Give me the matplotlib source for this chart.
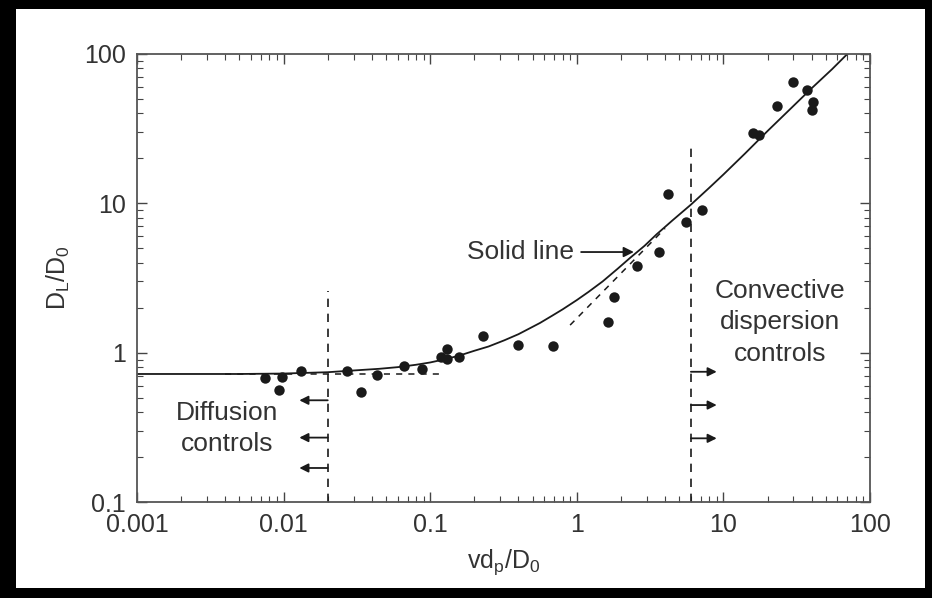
import numpy as np
import matplotlib
matplotlib.use("Agg")
import matplotlib.pyplot as plt
from matplotlib.patches import Rectangle
from matplotlib.ticker import FixedLocator, LogLocator, NullFormatter

plt.rcParams['font.family'] = ['Liberation Sans', 'DejaVu Sans']
plt.rcParams['mathtext.default'] = 'regular'

# measured points (vd_p/D_0, D_L/D_0)
pe = [0.0075, 0.0093, 0.0098, 0.0132, 0.027, 0.0337, 0.0434, 0.066, 0.088,
      0.119, 0.130, 0.130, 0.157, 0.229, 0.397, 0.689, 1.63, 1.79, 2.58,
      3.64, 4.19, 5.56, 7.14, 15.9, 17.5, 23.2, 29.9, 37.2, 40.2, 40.8]
dl = [0.676, 0.562, 0.687, 0.753, 0.753, 0.545, 0.708, 0.813, 0.777,
      0.935, 1.06, 0.906, 0.935, 1.29, 1.12, 1.11, 1.60, 2.36, 3.80,
      4.72, 11.5, 7.50, 9.02, 29.6, 28.7, 44.9, 64.9, 57.4, 42.2, 47.7]

# solid line
curve_x = [0.001, 0.005, 0.01, 0.02, 0.03, 0.045, 0.06, 0.08, 0.1, 0.13,
           0.16, 0.2, 0.25, 0.32, 0.4, 0.48, 0.56, 0.68, 0.8, 1.0, 1.2,
           1.5, 1.9, 2.3, 2.9, 3.5, 4.5, 6.0, 8.0, 10.0, 14.0, 20.0, 28.0,
           40.0, 55.0, 70.0]
curve_y = [0.72, 0.72, 0.725, 0.74, 0.76, 0.78, 0.80, 0.83, 0.86, 0.91,
           0.96, 1.03, 1.10, 1.21, 1.33, 1.46, 1.58, 1.77, 1.95, 2.25, 2.55,
           3.0, 3.65, 4.3, 5.2, 6.2, 7.7, 9.8, 12.7, 15.6, 21.5, 30.5, 42.0,
           59.0, 79.0, 100.0]

# dashed asymptotes
flat_x = [0.004, 0.12]
flat_y = [0.72, 0.72]
slope_x = [0.9, 4.0]
slope_y = [1.53, 6.8]

# regime boundaries
x_diff = 0.02
x_conv = 6.0
diff_arrow_y = [0.48, 0.27, 0.169]
conv_arrow_y = [0.745, 0.446, 0.267]

ink = '#1a1a1a'
txt = '#333333'

fig = plt.figure(figsize=(9.32, 5.98), dpi=100)
ax = fig.add_axes([0.147, 0.1605, 0.7865, 0.7492])

ax.plot(curve_x, curve_y, color=ink, lw=1.3)
ax.plot(flat_x, flat_y, color=ink, lw=1.1, ls=(0, (4, 4)))
ax.plot(slope_x, slope_y, color=ink, lw=1.1, ls=(0, (4, 4)))
ax.plot(pe, dl, 'o', color=ink, ms=7.5, mec='none')

ax.plot([x_diff, x_diff], [0.1, 2.6], color=ink, lw=1.2, ls=(0, (5, 4)))
ax.plot([x_conv, x_conv], [0.1, 24], color=ink, lw=1.2, ls=(0, (5, 4)))

for yy in diff_arrow_y:
    ax.annotate('', xy=(0.0128, yy), xytext=(x_diff, yy),
                arrowprops=dict(arrowstyle='-|>', color=ink, lw=1.3,
                                mutation_scale=13, shrinkA=0, shrinkB=0))
for yy in conv_arrow_y:
    ax.annotate('', xy=(9.0, yy), xytext=(x_conv, yy),
                arrowprops=dict(arrowstyle='-|>', color=ink, lw=1.3,
                                mutation_scale=13, shrinkA=0, shrinkB=0))

ax.annotate('', xy=(2.45, 4.72), xytext=(1.07, 4.72),
            arrowprops=dict(arrowstyle='-|>', color=ink, lw=1.3,
                            mutation_scale=15, shrinkA=0, shrinkB=0))
ax.text(0.178, 4.72, 'Solid line', fontsize=19, color=txt,
        ha='left', va='center')
ax.text(0.0041, 0.31, 'Diffusion\ncontrols', fontsize=19, color=txt,
        ha='center', va='center', linespacing=1.4)
ax.text(24.3, 1.6, 'Convective\ndispersion\ncontrols', fontsize=19,
        color=txt, ha='center', va='center', linespacing=1.4)

ax.set_xscale('log')
ax.set_yscale('log')
ax.set_xlim(0.001, 100)
ax.set_ylim(0.1, 100)

xt = [0.001, 0.01, 0.1, 1, 10, 100]
yt = [0.1, 1, 10, 100]
ax.xaxis.set_major_locator(FixedLocator(xt))
ax.yaxis.set_major_locator(FixedLocator(yt))
ax.set_xticklabels(['%g' % v for v in xt])
ax.set_yticklabels(['%g' % v for v in yt])
ax.xaxis.set_minor_locator(LogLocator(base=10, subs=np.arange(2, 10)))
ax.yaxis.set_minor_locator(LogLocator(base=10, subs=np.arange(2, 10)))
ax.xaxis.set_minor_formatter(NullFormatter())
ax.yaxis.set_minor_formatter(NullFormatter())

ax.tick_params(which='both', direction='in', top=True, right=True,
               colors='#444444', labelcolor=txt, labelsize=18)
ax.tick_params(which='major', length=7, width=1.0, pad=8)
ax.tick_params(which='minor', length=4, width=0.8)
for s in ax.spines.values():
    s.set_color('#555555')
    s.set_linewidth(1.3)

ax.set_xlabel('vd$_p$/D$_0$', fontsize=18, color=txt, labelpad=7)
ax.set_ylabel('D$_L$/D$_0$', fontsize=18, color=txt, labelpad=9)

# black frame round the picture
W, H = 932.0, 598.0
for (x0, y0, w, h) in [(0, 0, 16, H), (0, H - 9, W, 9), (0, 0, W, 10),
                       (W - 7, 0, 7, H)]:
    fig.add_artist(Rectangle((x0 / W, y0 / H), w / W, h / H,
                             transform=fig.transFigure, color='black',
                             lw=0, zorder=10))

fig.savefig('out.png', dpi=100, facecolor='white')
